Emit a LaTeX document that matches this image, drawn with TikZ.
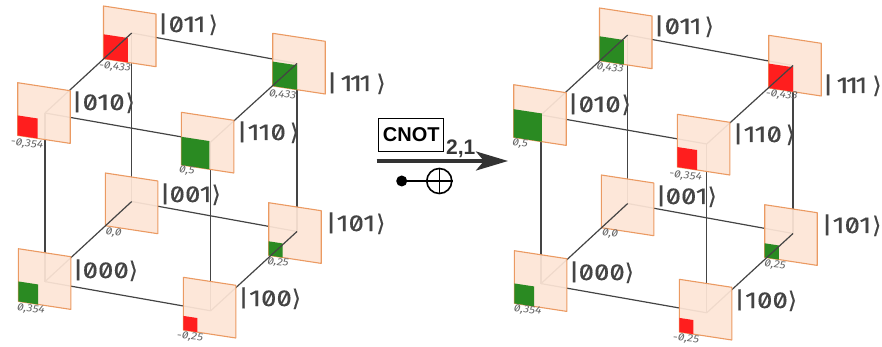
\documentclass[tikz,border=0pt]{standalone}
\usepackage{fontspec}
\usetikzlibrary{arrows.meta}
\setmainfont{Liberation Sans}
\newfontfamily\ketfont[RawFeature={+zero;+pnum},FakeStretch=1.2,FakeBold=0.3]{Fira Sans}
\newfontfamily\valfont[RawFeature={+zero},FakeStretch=1.15]{Fira Sans}
\newfontfamily\anglefont[FakeBold=0.3]{DejaVu Sans}
\definecolor{panelfill}{HTML}{FDE5D6}
\definecolor{panelline}{HTML}{EB9A62}
\definecolor{edgecol}{HTML}{444444}
\definecolor{ketcol}{HTML}{444444}
\definecolor{valcol}{HTML}{666666}
\definecolor{posamp}{HTML}{2A8A22}
\definecolor{negamp}{HTML}{FF1E1E}
\tikzset{
  cubeedge/.style={draw=edgecol,line width=1.2pt},
  panelface/.style={fill=panelfill,fill opacity=0.93,draw=panelline,line width=1.1pt,line join=round},
  ketlabel/.style={anchor=base west,inner sep=0,outer sep=0,text=ketcol,font=\ketfont\fontsize{23}{23}\selectfont},
  vallabel/.style={inner sep=0,outer sep=0,text=valcol,rotate=-6,font=\valfont\itshape\fontsize{10.5}{11}\selectfont},
  gatebox/.style={draw=black,line width=1.5pt,minimum width=65pt,minimum height=33pt,inner sep=0,font=\bfseries\fontsize{20}{20}\selectfont},
  gatemark/.style={draw=black,line width=1.6pt}
}
% top-left x, y, size factor, colour
\newcommand\qpanel[4]{%
  \begin{scope}[shift={(#1,#2)}]
    \pgfmathsetmacro\uu{1.07*#3}
    \path[panelface] (0,0) -- (52.5,8) -- (52.5,60.7) -- (0,52.7) -- cycle;
    \fill[#4] (0,{52.7-52.7*\uu}) -- ({52.5*\uu},{52.7-52.7*\uu+8*\uu}) -- ({52.5*\uu},{52.7+8*\uu}) -- (0,52.7) -- cycle;
  \end{scope}}
% name, x of bar, vertical centre, gap, digits, gap
\newcommand\ketlab[6]{%
  \node[ketlabel] (#1) at (#2,#3+8) {|\hspace{#4pt}#5\hspace{#6pt}{\anglefont\fontsize{23}{23}\selectfont ⟩}};}
\newcommand\kn[1]{\kern-#1pt\relax}
\newcommand\cubecoords{%
  \coordinate (v010) at (45,113);
  \coordinate (v110) at (210.7,142);
  \coordinate (v011) at (131.7,33);
  \coordinate (v111) at (297,63.5);
  \coordinate (v000) at (45,281.6);
  \coordinate (v100) at (210.7,310.8);
  \coordinate (v001) at (131.7,201.5);
  \coordinate (v101) at (297,231.5);}
\newcommand\cubeplainedges{%
  \draw[cubeedge] (v011) -- (v111);
  \draw[cubeedge] (v010) -- (v110);
  \draw[cubeedge] (v000) -- (v100);
  \draw[cubeedge] (v001) -- (v101);
  \draw[cubeedge] (v010) -- (v000);
  \draw[cubeedge] (v110) -- (v100);
  \draw[cubeedge] (v011) -- (v001);
  \draw[cubeedge] (v111) -- (v101);}
\newcommand\cubediagonals{%
  \draw[cubeedge] (v011) -- (v010);
  \draw[cubeedge] (v111) -- (v110);
  \draw[cubeedge] (v001) -- (v000);
  \draw[cubeedge] (v101) -- (v100);}
\newcommand\ketset[1]{%
  \ketlab{#1a}{157.5}{24}{0}{01\kn{1.5}1}{3}
  \ketlab{#1b}{71.5}{102}{0}{010}{1}
  \ketlab{#1c}{326.5}{83}{3}{1\kn{2.5}1\kn{2.5}1}{5}
  \ketlab{#1d}{236.5}{132}{0}{1\kn{1}10}{4}
  \ketlab{#1e}{72.5}{270}{-1}{000}{0}
  \ketlab{#1f}{159.5}{194}{-1}{001}{0}
  \ketlab{#1g}{238}{298}{0}{100}{0}
  \ketlab{#1h}{325.5}{223}{0}{101}{1}}
\begin{document}
\begin{tikzpicture}[x=1pt,y=-1pt]
\useasboundingbox (0,0) rectangle (882,347);
% ---------- left cube
\begin{scope}
  \cubecoords
  \cubeplainedges
  \qpanel{103.5}{6}{0.433}{negamp}
  \qpanel{272.7}{33.3}{0.433}{posamp}
  \qpanel{105.3}{173}{0}{posamp}
  \qpanel{268.7}{202.7}{0.25}{posamp}
  \cubediagonals
  \qpanel{17.7}{82.7}{0.354}{negamp}
  \qpanel{181.3}{112.3}{0.5}{posamp}
  \qpanel{18.3}{248.7}{0.354}{posamp}
  \qpanel{183.3}{277.3}{0.25}{negamp}
  \ketset{L}
  \node[vallabel] (Lva) at (115,67) {-0,433};
  \node[vallabel] (Lvb) at (27,144) {-0,354};
  \node[vallabel] (Lvc) at (282.7,95) {0,433};
  \node[vallabel] (Lvd) at (187,171) {0,5};
  \node[vallabel] (Lve) at (31,309.3) {0,354};
  \node[vallabel] (Lvf) at (113.7,232.7) {0,0};
  \node[vallabel] (Lvg) at (190,337) {-0,25};
  \node[vallabel] (Lvh) at (278,262.7) {0,25};
\end{scope}
% ---------- right cube
\begin{scope}[shift={(496,2)}]
  \cubecoords
  \cubeplainedges
  \qpanel{103.5}{6}{0.433}{posamp}
  \qpanel{272.7}{33.3}{0.433}{negamp}
  \qpanel{105.3}{173}{0}{posamp}
  \qpanel{268.7}{202.7}{0.25}{posamp}
  \cubediagonals
  \qpanel{17.7}{82.7}{0.5}{posamp}
  \qpanel{181.3}{112.3}{0.354}{negamp}
  \qpanel{18.3}{248.7}{0.354}{posamp}
  \qpanel{183.3}{277.3}{0.25}{negamp}
  \ketset{R}
  \node[vallabel] (Rva) at (114,66.3) {0,433};
  \node[vallabel] (Rvb) at (24,142) {0,5};
  \node[vallabel] (Rvc) at (285.7,93) {-0,433};
  \node[vallabel] (Rvd) at (189.7,174) {-0,354};
  \node[vallabel] (Rve) at (31.7,308.3) {0,354};
  \node[vallabel] (Rvf) at (114,232) {0,0};
  \node[vallabel] (Rvg) at (190,336.7) {-0,25};
  \node[vallabel] (Rvh) at (279,263) {0,25};
\end{scope}
% ---------- gate
\node[gatebox] (cnot) at (411.2,135) {CNOT};
\node[anchor=base west,inner sep=0,font=\bfseries\fontsize{21}{21}\selectfont,text=edgecol!80!black] (idx) at (446,155) {2,1};
\coordinate (arrowstart) at (376.7,161);
\coordinate (arrowend) at (508,161);
\draw[line width=3.4pt,draw=black!80,-{Stealth[length=32pt,width=19pt,inset=8pt]}] (arrowstart) -- (arrowend);
\node[circle,fill=black,inner sep=0,minimum size=11pt] (ctrl) at (401.7,181) {};
\node[circle,gatemark,inner sep=0,minimum size=25pt] (targ) at (439.3,181) {};
\draw[gatemark] (ctrl) -- (targ.center);
\draw[gatemark] (targ.north) -- (targ.south);
\draw[gatemark] (targ.west) -- (targ.east);
\end{tikzpicture}
\end{document}
